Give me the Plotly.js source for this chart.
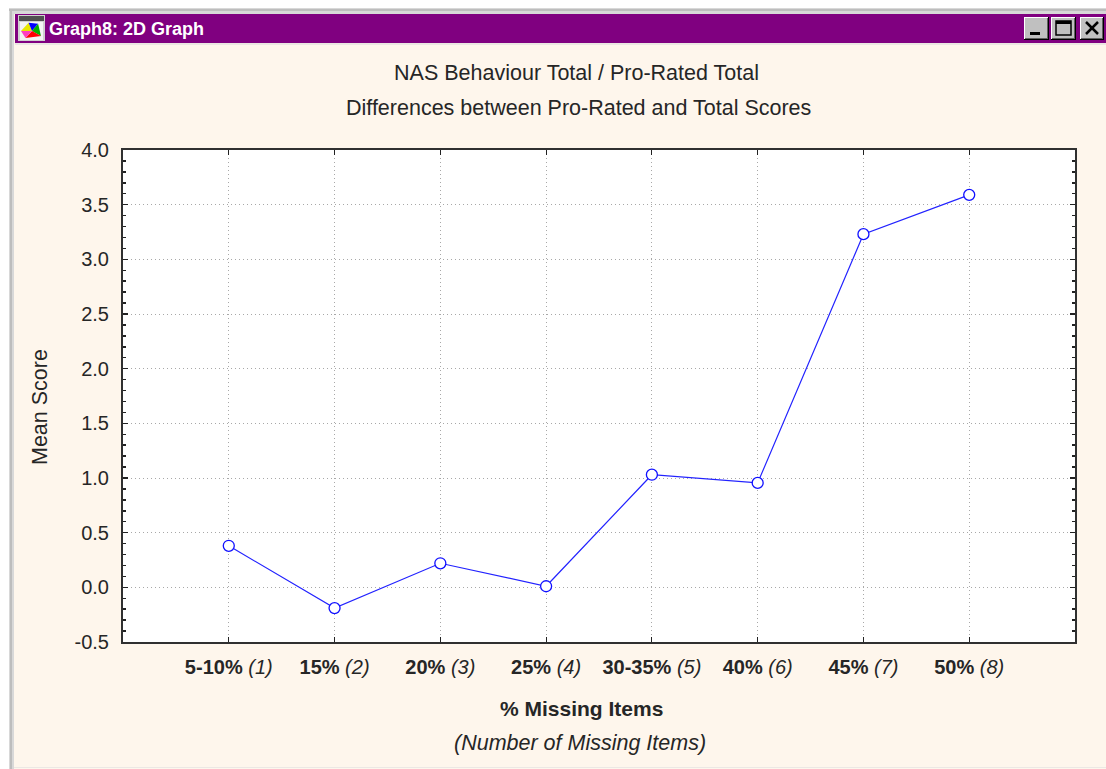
<!DOCTYPE html>
<html><head><meta charset="utf-8">
<script src="https://cdn.plot.ly/plotly-3.0.1.min.js"></script>
<style>html,body{margin:0;padding:0;background:#fff}#c{width:1106px;height:769px}</style>
</head><body><div id="c"></div>
<script>
const positions=[1,2,3,4,5,6,7,8];
const missingPct=["5-10%","15%","20%","25%","30-35%","40%","45%","50%"];
const missingCount=["(1)","(2)","(3)","(4)","(5)","(6)","(7)","(8)"];
const meanScore=[0.38,-0.19,0.22,0.01,1.03,0.955,3.23,3.59];
const yTicks=[-0.5,0,0.5,1,1.5,2,2.5,3,3.5,4];
const yTickText=["-0.5","0.0","0.5","1.0","1.5","2.0","2.5","3.0","3.5","4.0"];

const W=1106,H=769,L=123,R=1075,T=150,B=642;
const px=x=>(x-L)/(R-L), py=y=>(B-y)/(B-T);
const FONT='"Liberation Sans", Arial, sans-serif';
const INK='#262626';
function rect(x0,y0,x1,y1,fill,line,lw){return {type:'rect',xref:'paper',yref:'paper',layer:'below',
  x0:px(x0),x1:px(x1),y0:py(y0),y1:py(y1),fillcolor:fill,line:{color:line||fill,width:line?(lw||1):0}};}
function seg(x0,y0,x1,y1,c,w){return {type:'line',xref:'paper',yref:'paper',layer:'below',
  x0:px(x0),x1:px(x1),y0:py(y0),y1:py(y1),line:{color:c,width:w}};}
function btn(x0,x1){return [rect(x0,17,x1+1,40,'#000000'),rect(x0,17,x1,39,'#FFFFFF'),rect(x0+1,18,x1,39,'#606060'),rect(x0+1,18,x1-1,38,'#C0C0C0')];}
function wedge(cx,cy,r,a0,a1,c){const p=a=>[px(cx+r*Math.cos(a)),py(cy+r*0.8*Math.sin(a))];
  const [a,b]=[p(a0),p(a1)],o=[px(cx),py(cy)];
  return {type:'path',xref:'paper',yref:'paper',layer:'below',fillcolor:c,line:{width:0},
    path:`M${o[0]},${o[1]}L${a[0]},${a[1]}L${b[0]},${b[1]}Z`};}

const shapes=[
  rect(0,0,W,8,'#FFFFFF'),
  rect(0,0,9,H,'#FFFFFF'),
  rect(9,8,W,14,'#D8D8D8'),
  rect(9,8,14,H,'#D8D8D8'),
  seg(9,10,W,10,'#BDBDBD',2),
  seg(11,10,11,H,'#BDBDBD',2),
  rect(15,14,W,43,'#800080'),
  seg(15,44,W,44,'#D8D8D8',1),
  seg(14,767.5,W,767.5,'#ECE8E4',1),
  ...btn(1024,1048),...btn(1051,1075),...btn(1080,1103),
  rect(1030,32,1040,35,'#000000'),
  rect(1056,21,1071,35,'rgba(0,0,0,0)','#000000',1.5),
  rect(1056,21,1071,24,'#000000'),
  seg(1086,22,1098,34,'#000000',2.5),
  seg(1098,22,1086,34,'#000000',2.5),
  rect(18,15,45,41,'#D0D0D0'),
  rect(19,16,44,21,'#505050'),
  rect(20,22,43,40,'#F4F4F4'),
  wedge(32,31,11,3.14,4.4,'#E8E800'),
  wedge(32,31,11,4.4,5.3,'#0000FF'),
  wedge(32,31,11,5.3,6.9,'#00B000'),
  wedge(32,31,11,0.6,2.2,'#FF0000'),
  wedge(32,31,11,2.2,3.14,'#FF40C0')
];

const annotations=[
 {text:'<b>Graph8: 2D Graph</b>',x:px(47),y:py(29),xanchor:'left',font:{color:'#FFFFFF',size:18}},
 {text:'Differences between Pro-Rated and Total Scores',x:px(578.5),y:py(108),xanchor:'center',font:{size:21.5,color:INK}},
 {text:'<b>% Missing Items</b>',x:px(581),y:py(708),xanchor:'center',font:{size:21,color:INK}},
 {text:'<i>(Number of Missing Items)</i>',x:px(579.5),y:py(743),xanchor:'center',font:{size:21.5,color:INK}},
 {text:'Mean Score',x:px(40),y:py(407),xanchor:'center',textangle:-90,font:{size:21.5,color:INK}}
].map(a=>Object.assign({xref:'paper',yref:'paper',yanchor:'middle',showarrow:false},a));

const trace={x:positions,y:meanScore,type:'scatter',mode:'lines+markers',
  line:{color:'#2222FF',width:1.2},
  marker:{symbol:'circle',size:11,color:'#FFFFFF',line:{color:'#1010FF',width:1.3}},cliponaxis:false,hoverinfo:'x+y'};

const layout={width:W,height:H,autosize:false,showlegend:false,
  paper_bgcolor:'#FEF6EC',plot_bgcolor:'#FFFFFF',
  font:{family:FONT,color:INK},
  margin:{l:L,r:W-R,t:T,b:H-B,pad:0},
  title:{text:'NAS Behaviour Total / Pro-Rated Total',x:576.5/W,xanchor:'center',y:1-72/H,yanchor:'middle',font:{size:21.5,color:INK}},
  xaxis:{range:[0,9],tickmode:'array',tickvals:positions,
    ticktext:missingPct.map((p,i)=>`<b>${p}</b> <i>${missingCount[i]}</i>`),
    tickfont:{size:20,color:INK},ticks:'inside',ticklen:5,tickcolor:'#222',tickwidth:1,ticklabelstandoff:6,
    showgrid:true,griddash:'1px,3px',gridcolor:'#A8A8A8',gridwidth:1,zeroline:false,
    showline:true,linecolor:'#303030',linewidth:2,mirror:'ticks'},
  yaxis:{range:[-0.5,4],tickmode:'array',tickvals:yTicks,ticktext:yTickText,
    tickfont:{size:20,color:INK},ticks:'inside',ticklen:5,tickcolor:'#222',tickwidth:1.5,ticklabelstandoff:8,
    minor:{dtick:0.1,ticks:'inside',ticklen:3,tickcolor:'#222',tickwidth:1.5,showgrid:false},
    showgrid:true,griddash:'1px,3px',gridcolor:'#A8A8A8',gridwidth:1,zeroline:false,
    showline:true,linecolor:'#303030',linewidth:2,mirror:'ticks'},
  shapes,annotations};
Plotly.newPlot('c',[trace],layout,{displayModeBar:false,staticPlot:true});
</script></body></html>
